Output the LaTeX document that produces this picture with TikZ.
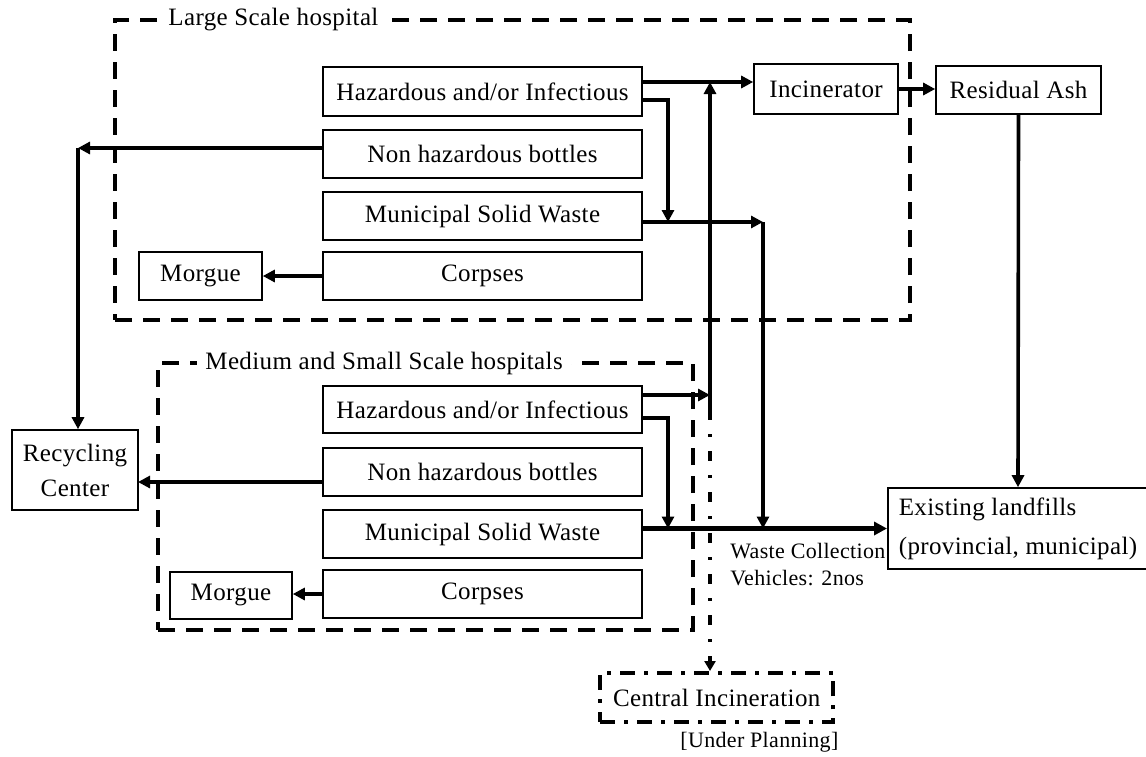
\documentclass[tikz,border=0pt]{standalone}
\usepackage{fontspec}
\setmainfont{Liberation Serif}[LetterSpace=1.5]
\usetikzlibrary{arrows.meta}
\newcommand\fsA{\fontsize{12.5}{17.5}\selectfont}
\newcommand\fsL{\fontsize{12.5}{19.5}\selectfont}
\newcommand\fsB{\fontsize{11}{13.5}\selectfont}
\tikzset{
 box/.style={draw, line width=0.8pt, inner sep=0pt, font=\fsA, align=center},
 arr/.style={line width=1.8pt, -{Triangle[length=6pt,width=6pt]}},
 thickarr/.style={line width=2.5pt, -{Triangle[length=6.5pt,width=6.5pt]}},
 grp/.style={draw, line width=2pt, dash pattern=on 8.5pt off 5.5pt, inner sep=0pt},
 grplabel/.style={fill=white, inner xsep=4pt, inner ysep=1pt, font=\fsA, anchor=west},
 plan/.style={draw, line width=2pt, dash pattern=on 7.5pt off 4.5pt on 2pt off 4.5pt},
 planarr/.style={line width=1.6pt, dash pattern=on 5pt off 7pt on 1.5pt off 7pt, -{Triangle[length=5pt,width=5.5pt]}},
}
\begin{document}
\begin{tikzpicture}[x=0.5pt,y=-0.5pt]
\useasboundingbox (0,0) rectangle (1146,756);
% group frames
\node[grp, minimum width=397.5pt, minimum height=150pt] (large) at (512.5,170) {};
\node[grp, minimum width=267.5pt, minimum height=133.5pt] (medium) at (425.5,496.5) {};
\node[grplabel] (largeT) at (160,20) {Large Scale hospital};
\node[grplabel] (mediumT) at (197,363) {Medium and Small Scale hospitals};
% large scale boxes
\node[box, minimum width=159.5pt, minimum height=24.5pt] (hazL) at (482.5,91.5) {Hazardous and/or Infectious};
\node[box, minimum width=159.5pt, minimum height=24pt] (nhbL) at (482.5,154) {Non hazardous bottles};
\node[box, minimum width=159.5pt, minimum height=24pt] (mswL) at (482.5,216) {Municipal Solid Waste};
\node[box, minimum width=159.5pt, minimum height=24pt] (corL) at (482.5,276) {Corpses};
\node[box, minimum width=61.5pt, minimum height=24pt] (morL) at (200.5,276) {Morgue};
% medium scale boxes
\node[box, minimum width=159.5pt, minimum height=23.5pt] (hazM) at (482.5,409.5) {Hazardous and/or Infectious};
\node[box, minimum width=159.5pt, minimum height=24pt] (nhbM) at (482.5,472) {Non hazardous bottles};
\node[box, minimum width=159.5pt, minimum height=24pt] (mswM) at (482.5,534) {Municipal Solid Waste};
\node[box, minimum width=159.5pt, minimum height=24pt] (corM) at (482.5,594) {Corpses};
\node[box, minimum width=61pt, minimum height=23.5pt] (morM) at (231,595.5) {Morgue};
% others
\node[box, minimum width=72pt, minimum height=25pt] (inc) at (826,89) {Incinerator};
\node[box, minimum width=82.5pt, minimum height=24pt] (res) at (1018.5,90) {Residual Ash};
\node[box, font=\fsL, minimum width=126pt, minimum height=40.5pt, align=left, inner xsep=5.5pt] (land) at (1018,528.5) {Existing landfills\\(provincial, municipal)};
\node[box, minimum width=63pt, minimum height=40pt] (rc) at (75,470) {Recycling\\Center};
\node[plan, font=\fsA, inner xsep=6.5pt, inner ysep=0pt, minimum height=24.5pt, anchor=west] (ci) at (598,697.5) {Central Incineration};
\node[font=\fsB, anchor=west, inner xsep=3.5pt] (up) at (673,742) {[Under Planning]};
\node[font=\fsB, anchor=west, align=left, inner xsep=3.5pt] (wcv) at (723,564.5) {Waste Collection\\Vehicles: 2nos};
% junction coordinates
\coordinate (jUp) at (710,410);
\coordinate (jInc) at (710,82);
\coordinate (jM) at (710,395);
\coordinate (kL) at (668,100);
\coordinate (kM) at (668,418);
\coordinate (mL) at (763,222);
\coordinate (rcT) at (78,148);
\coordinate (rcM) at (138,482);
% connectors
\draw[arr] (jUp) -- (jInc);
\draw[arr] (hazL.east |- jInc) -- (inc.west |- jInc);
\draw[arr] (hazL.east |- kL) -| (kL |- mL);
\draw[arr] (mswL.east |- mL) -- (mL);
\draw[arr] (mL) -- (mL |- land.west);
\draw[arr] (inc.east) -- (res.west |- inc.east);
\draw[arr] (res.south) -- (land.north);
\draw[arr] (nhbL.west |- rcT) -- (rcT);
\draw[arr] (rcT) -- (rcT |- rc.north);
\draw[arr] (corL.west) -- (morL.east |- corL.west);
\draw[arr] (hazM.east |- jM) -- (jM);
\draw[arr] (hazM.east |- kM) -| (kM |- land.west);
\draw[thickarr] (mswM.east |- land.west) -- (land.west);
\draw[arr] (nhbM.west |- rcM) -- (rcM);
\draw[arr] (corM.west) -- (morM.east |- corM.west);
\draw[planarr] (jUp) -- (jUp |- ci.north);
\end{tikzpicture}
\end{document}
